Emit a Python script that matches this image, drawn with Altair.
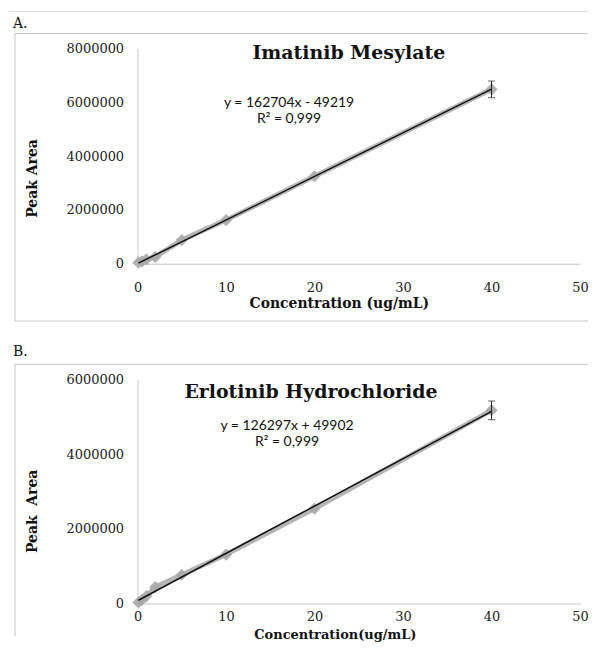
import altair as alt
import pandas as pd

# ---- data ----
conc = [0.1, 0.5, 1, 2, 5, 10, 20, 40]
area_a = [40000, 90000, 160000, 250000, 880000, 1620000, 3250000, 6480000]
err_a = [0, 0, 0, 0, 0, 0, 0, 310000]
area_b = [30000, 100000, 200000, 440000, 770000, 1310000, 2540000, 5170000]
err_b = [0, 0, 0, 0, 0, 0, 0, 250000]

x_ticks = [0, 10, 20, 30, 40, 50]
y_ticks_a = [0, 2000000, 4000000, 6000000, 8000000]
y_ticks_b = [0, 2000000, 4000000, 6000000]

SERIF = "DejaVu Serif"
SANS = "Lato"
FRAME = "#c4c4c4"
AXISC = "#c8c8c8"


def one(**kw):
    return pd.DataFrame([kw])


def panel(letter, title, eq, r2, areas, errs, ymax, yticks, height,
          xtitle, ytitle, p):
    df = pd.DataFrame({"c": conc, "a": areas, "e": errs})
    df["lo"] = df["a"] - df["e"]
    df["hi"] = df["a"] + df["e"]

    xaxis = alt.Axis(values=x_ticks, grid=False, ticks=False, tickSize=0,
                     domainColor=AXISC, labelFont=SERIF, labelFontSize=13,
                     labelColor="#222", labelBaseline="middle",
                     labelPadding=p["xlp"], labelFlush=False,
                     labelOverlap=False, title=xtitle, titleFont=SERIF,
                     titleFontSize=p.get("xts", 14), titleFontWeight="bold",
                     titleColor="#111", titleX=p["xtx"], titleY=p["xty"],
                     titleBaseline="middle", titleAlign="center")
    yaxis = alt.Axis(values=yticks, format="d", grid=False, ticks=False,
                     tickSize=0, domainColor=AXISC, labelFont=SERIF,
                     labelFontSize=13, labelColor="#222", labelPadding=14,
                     labelFlush=False, labelOverlap=False, title=ytitle,
                     titleFont=SERIF, titleFontSize=14,
                     titleFontWeight="bold", titleColor="#111",
                     titleX=p["ytx"], titleY=p["yty"], titleAngle=-90,
                     titleBaseline="middle", titleAlign="center")
    xs = alt.Scale(domain=[0, 50])
    ys = alt.Scale(domain=[0, ymax])
    X = alt.X("c:Q", scale=xs, axis=xaxis)

    base = alt.Chart(df)
    series = base.mark_line(color="#9c9c9c", strokeWidth=5, opacity=0.75).encode(
        x=X, y=alt.Y("a:Q", scale=ys, axis=yaxis))
    pts = base.mark_point(shape="diamond", filled=True, size=150,
                          color="#a9a9a9", opacity=0.9).encode(
        x=X, y=alt.Y("a:Q", scale=ys, axis=yaxis))
    trend = base.transform_regression("c", "a").mark_line(
        color="#111", strokeWidth=1.5).encode(
        x=X, y=alt.Y("a:Q", scale=ys, axis=yaxis))
    eb = base.transform_filter("datum.e > 0")
    erule = eb.mark_rule(color="#222", strokeWidth=1).encode(
        x=X, y=alt.Y("lo:Q", scale=ys, axis=yaxis), y2="hi:Q")
    cap_lo = eb.mark_tick(orient="horizontal", size=7, thickness=1,
                          color="#222").encode(
        x=X, y=alt.Y("lo:Q", scale=ys, axis=yaxis))
    cap_hi = eb.mark_tick(orient="horizontal", size=7, thickness=1,
                          color="#222").encode(
        x=X, y=alt.Y("hi:Q", scale=ys, axis=yaxis))

    layers = []
    # frame around panel
    layers.append(alt.Chart(one(k=1)).mark_rule(color=FRAME).encode(
        x=alt.value(p["fl"]), x2=alt.value(p["fr"]), y=alt.value(p["ft"])))
    layers.append(alt.Chart(one(k=1)).mark_rule(color=FRAME).encode(
        x=alt.value(p["fl"]), y=alt.value(p["ft"]), y2=alt.value(p["fb"])))
    if p.get("bottom"):
        layers.append(alt.Chart(one(k=1)).mark_rule(color=FRAME).encode(
            x=alt.value(p["fl"]), x2=alt.value(p["fr"]), y=alt.value(p["fb"])))
    if p.get("topline") is not None:
        layers.append(alt.Chart(one(k=1)).mark_rule(color="#dcdcdc").encode(
            x=alt.value(-129), x2=alt.value(p["fr"]), y=alt.value(p["topline"])))
    layers.append(alt.Chart(one(t=letter)).mark_text(
        font=SERIF, fontSize=14, align="left", baseline="middle",
        color="#111").encode(x=alt.value(-125), y=alt.value(p["ly"]),
                             text="t:N"))
    layers.append(alt.Chart(one(t=title)).mark_text(
        font=SERIF, fontSize=19, fontWeight="bold", align="center",
        baseline="middle", color="#111").encode(
        x=alt.value(p["tx"]), y=alt.value(p["ty"]), text="t:N"))
    layers.append(alt.Chart(one(t=eq)).mark_text(
        font=SANS, fontSize=14, align="center", baseline="middle",
        color="#111").encode(x=alt.value(p["ex"]), y=alt.value(p["ey"]),
                             text="t:N"))
    layers.append(alt.Chart(one(t=r2)).mark_text(
        font=SANS, fontSize=14, align="center", baseline="middle",
        color="#111").encode(x=alt.value(p["ex"]), y=alt.value(p["ey"] + 16),
                             text="t:N"))
    layers += [series, pts, trend, erule, cap_lo, cap_hi]
    return alt.layer(*layers).properties(width=444, height=height)


pa = dict(xlp=24, xtx=202, xty=40, ytx=-105.5, yty=130,
          fl=-123, fr=452, ft=-15, fb=273.5, bottom=True, topline=-37,
          ly=-25, tx=212, ty=5, ex=152, ey=55)
pb = dict(xlp=13, xtx=198, xty=31, xts=13, ytx=-105, yty=132,
          fl=-123, fr=452, ft=-15, fb=258, bottom=False, topline=None,
          ly=-27, tx=174, ty=13, ex=150, ey=47)

A = panel("A.", "Imatinib Mesylate", "y = 162704x - 49219", "R\u00b2 = 0,999",
          area_a, err_a, 8000000, y_ticks_a, 216,
          "Concentration (ug/mL)", "Peak Area", pa)
B = panel("B.", "Erlotinib Hydrochloride", "y = 126297x + 49902",
          "R\u00b2 = 0,999", area_b, err_b, 6000000, y_ticks_b, 225,
          "Concentration(ug/mL)", "Peak\u00a0 Area", pb)

chart = alt.vconcat(A, B, spacing=24).properties(
    padding={"left": 0, "top": 1.5, "right": 0, "bottom": 0},
    background="white",
).configure_view(stroke=None)

chart.save("out.html", embed_options={"renderer": "svg", "actions": False})
